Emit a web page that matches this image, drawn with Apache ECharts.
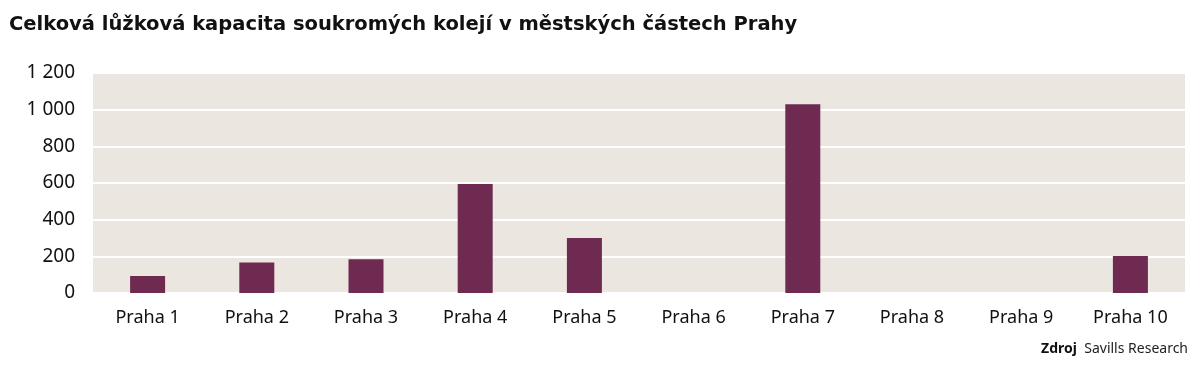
<!DOCTYPE html>
<html><head><meta charset="utf-8">
<script src="https://cdn.jsdelivr.net/npm/echarts@6/dist/echarts.min.js"></script>
<style>html,body{margin:0;padding:0;background:#fff}#c{width:1200px;height:366px}</style>
</head><body><div id="c"></div>
<script>
const categories = ["Praha 1","Praha 2","Praha 3","Praha 4","Praha 5","Praha 6","Praha 7","Praha 8","Praha 9","Praha 10"];
const capacity = [93, 167, 184, 595, 300, 0, 1029, 0, 0, 202];
const yTicks = [0, 200, 400, 600, 800, 1000, 1200];
const titleText = "Celková lůžková kapacita soukromých kolejí v městských částech Prahy";

const font = "'Noto Sans', 'DejaVu Sans', sans-serif";
const chart = echarts.init(document.getElementById('c'));
chart.setOption({
  animation: false,
  title: [{
    text: titleText, left: 4, top: 10,
    textStyle: {fontFamily: "'DejaVu Sans', sans-serif", fontSize: 19.5, fontWeight: 'bold', color: '#111'}
  }],
  graphic: [{
    type: 'text', right: 12, top: 342,
    style: {
      text: '{b|Zdroj}  Savills Research',
      rich: {b: {fontWeight: 'bold', fontFamily: font, fontSize: 14, fill: '#111'}},
      fontFamily: font, fontSize: 14, fill: '#222'
    }
  }],
  grid: {left: 93, right: 15, top: 73, bottom: 73, show: true, backgroundColor: '#ECE6E0', borderWidth: 0},
  xAxis: {
    type: 'category', data: categories,
    axisLine: {show: false}, axisTick: {show: false},
    axisLabel: {fontFamily: font, fontSize: 18, color: '#111', margin: 16}
  },
  yAxis: {
    type: 'value', min: yTicks[0], max: yTicks[yTicks.length-1], interval: 200,
    axisLine: {show: false}, axisTick: {show: false},
    splitLine: {lineStyle: {color: '#ffffff', width: 2}},
    axisLabel: {fontFamily: font, fontSize: 19, color: '#111', margin: 18,
      formatter: v => String(v).replace(/\B(?=(\d{3})+(?!\d))/g, ' ')}
  },
  series: [{
    type: 'bar', data: capacity, barWidth: 35,
    itemStyle: {color: '#6E2A50'}
  }]
});
</script></body></html>
